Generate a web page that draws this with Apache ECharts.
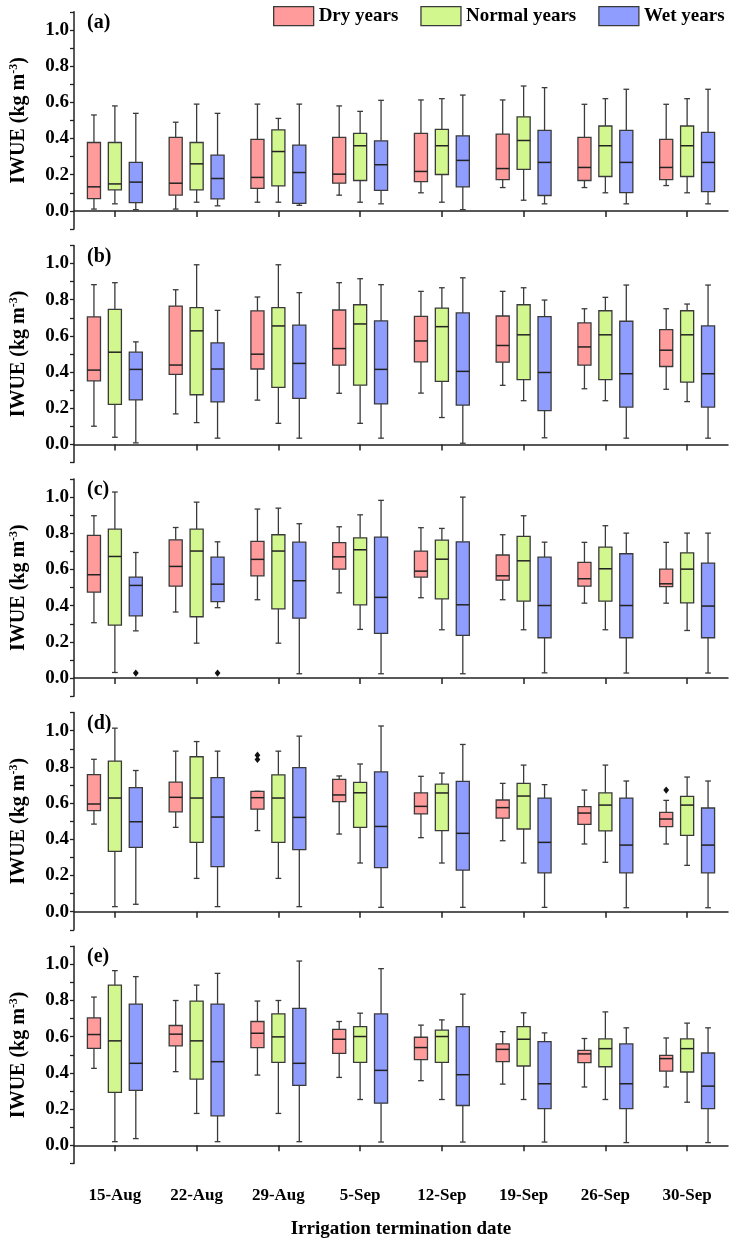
<!DOCTYPE html>
<html lang="en">
<head>
    <meta charset="UTF-8">
    <title>IWUE boxplots</title>
    <script src="https://cdn.jsdelivr.net/npm/echarts@6/dist/echarts.min.js"></script>
    <style>
        html, body { margin: 0; padding: 0; background: #fff; }
    </style>
</head>
<body>
    <div id="chart" style="width:734px;height:1240px;"></div>
<script>
// categories
var dates = ['15-Aug', '22-Aug', '29-Aug', '5-Sep', '12-Sep', '19-Sep', '26-Sep', '30-Sep'];
var groups = ['Dry years', 'Normal years', 'Wet years'];
var panels = ['(a)', '(b)', '(c)', '(d)', '(e)'];

// each row: [min, Q1, median, Q3, max] per date
var dry_a = [[0.01,0.068,0.133,0.378,0.53],[0.01,0.087,0.153,0.406,0.49],[0.048,0.124,0.185,0.395,0.59],[0.087,0.153,0.203,0.406,0.58],[0.1,0.162,0.218,0.428,0.613],[0.129,0.173,0.234,0.424,0.613],[0.129,0.168,0.24,0.406,0.589],[0.14,0.173,0.24,0.395,0.589]];
var normal_a = [[0.039,0.116,0.149,0.378,0.58],[0.048,0.116,0.26,0.378,0.59],[0.048,0.138,0.328,0.448,0.511],[0.048,0.168,0.36,0.428,0.55],[0.048,0.201,0.36,0.45,0.62],[0.059,0.229,0.389,0.52,0.69],[0.1,0.19,0.36,0.469,0.62],[0.1,0.19,0.36,0.469,0.62]];
var wet_a = [[0.007,0.046,0.159,0.268,0.539],[0.028,0.066,0.179,0.308,0.539],[0.031,0.042,0.212,0.363,0.59],[0.039,0.113,0.255,0.387,0.611],[0.007,0.133,0.279,0.415,0.64],[0.039,0.085,0.268,0.445,0.681],[0.039,0.101,0.268,0.445,0.672],[0.039,0.107,0.268,0.434,0.672]];

var dry_b = [[0.101,0.352,0.411,0.705,0.883],[0.169,0.387,0.439,0.765,0.855],[0.245,0.417,0.499,0.738,0.815],[0.283,0.439,0.53,0.743,0.894],[0.284,0.457,0.572,0.708,0.846],[0.327,0.455,0.547,0.71,0.846],[0.308,0.439,0.539,0.672,0.75],[0.305,0.431,0.521,0.635,0.75]];
var normal_b = [[0.04,0.222,0.51,0.747,0.894],[0.121,0.275,0.628,0.756,0.993],[0.117,0.316,0.655,0.756,0.993],[0.117,0.328,0.666,0.772,0.916],[0.149,0.349,0.651,0.754,0.866],[0.242,0.358,0.606,0.772,0.866],[0.242,0.358,0.606,0.739,0.813],[0.237,0.345,0.606,0.739,0.776]];
var wet_b = [[0.009,0.246,0.415,0.51,0.567],[0.035,0.235,0.417,0.561,0.741],[0.035,0.255,0.448,0.659,0.839],[0.035,0.224,0.415,0.683,0.883],[0.007,0.218,0.404,0.727,0.921],[0.037,0.187,0.398,0.706,0.798],[0.035,0.207,0.391,0.681,0.881],[0.035,0.207,0.391,0.655,0.881]];

var dry_c = [[0.306,0.475,0.571,0.788,0.897],[0.365,0.508,0.617,0.764,0.832],[0.433,0.565,0.656,0.755,0.934],[0.471,0.602,0.67,0.748,0.836],[0.444,0.558,0.591,0.702,0.831],[0.433,0.541,0.565,0.68,0.792],[0.414,0.508,0.549,0.639,0.75],[0.414,0.505,0.521,0.602,0.75]];
var normal_c = [[0.031,0.293,0.672,0.823,1.028],[0.193,0.339,0.702,0.823,0.972],[0.193,0.383,0.702,0.792,0.939],[0.269,0.405,0.709,0.775,0.902],[0.267,0.438,0.657,0.762,0.827],[0.267,0.425,0.648,0.783,0.897],[0.267,0.425,0.604,0.724,0.842],[0.263,0.416,0.602,0.692,0.801]];
var wet_c = [[0.261,0.344,0.512,0.558,0.694],[0.389,0.422,0.519,0.668,0.753],[0.024,0.331,0.538,0.751,0.853],[0.024,0.247,0.446,0.779,0.982],[0.024,0.236,0.405,0.753,1.0],[0.029,0.223,0.401,0.668,0.751],[0.028,0.223,0.401,0.687,0.801],[0.028,0.223,0.398,0.635,0.801]];

var dry_d = [[0.484,0.558,0.595,0.757,0.842],[0.466,0.552,0.632,0.716,0.887],[0.448,0.567,0.63,0.665,0.665],[0.429,0.608,0.645,0.731,0.75],[0.409,0.54,0.582,0.656,0.748],[0.392,0.517,0.575,0.617,0.709],[0.374,0.482,0.545,0.58,0.672],[0.374,0.47,0.512,0.549,0.615]];
var normal_d = [[0.028,0.333,0.628,0.832,1.014],[0.184,0.383,0.628,0.856,0.94],[0.184,0.383,0.628,0.756,0.887],[0.269,0.466,0.657,0.715,0.816],[0.269,0.448,0.656,0.705,0.766],[0.269,0.457,0.639,0.709,0.81],[0.273,0.446,0.589,0.656,0.81],[0.256,0.422,0.589,0.637,0.744]];
var wet_d = [[0.041,0.355,0.497,0.686,0.78],[0.028,0.249,0.523,0.741,0.887],[0.028,0.343,0.521,0.796,0.97],[0.024,0.243,0.471,0.772,1.026],[0.024,0.23,0.433,0.72,0.924],[0.024,0.215,0.383,0.628,0.702],[0.022,0.215,0.368,0.628,0.722],[0.022,0.215,0.368,0.573,0.722]];

var dry_e = [[0.425,0.536,0.612,0.704,0.819],[0.407,0.549,0.614,0.662,0.8],[0.388,0.54,0.619,0.684,0.797],[0.375,0.508,0.586,0.64,0.684],[0.357,0.473,0.54,0.597,0.664],[0.338,0.462,0.53,0.56,0.628],[0.322,0.457,0.505,0.525,0.59],[0.322,0.41,0.479,0.497,0.593]];
var normal_e = [[0.02,0.292,0.577,0.885,0.965],[0.176,0.366,0.577,0.797,0.885],[0.176,0.458,0.599,0.726,0.8],[0.253,0.458,0.601,0.656,0.73],[0.253,0.458,0.601,0.636,0.693],[0.253,0.438,0.586,0.656,0.732],[0.253,0.434,0.534,0.588,0.737],[0.238,0.405,0.534,0.588,0.675]];
var wet_e = [[0.037,0.303,0.453,0.78,0.932],[0.02,0.163,0.462,0.78,0.95],[0.02,0.331,0.453,0.756,1.018],[0.018,0.233,0.414,0.726,0.976],[0.018,0.22,0.39,0.656,0.835],[0.018,0.203,0.34,0.573,0.621],[0.015,0.203,0.34,0.56,0.649],[0.015,0.203,0.327,0.51,0.649]];

// outliers: [panel index, group index, date index, value]
var outliers = [[2, 2, 0, 0.028], [2, 2, 1, 0.028], [3, 0, 2, 0.865], [3, 0, 2, 0.841], [3, 0, 7, 0.672]];

var panelData = [
    [dry_a, normal_a, wet_a],
    [dry_b, normal_b, wet_b],
    [dry_c, normal_c, wet_c],
    [dry_d, normal_d, wet_d],
    [dry_e, normal_e, wet_e]
];

var fills = ['#FF9B9B', '#D3F78F', '#8F9DFF'];
var edge = '#3a3a3a';
var offsets = [-0.256, 0, 0.256];   // share of a category band
var font = 'Liberation Serif';

var gridTop = 11.8, gridStep = 233.6, gridH = 217.2;

function boxItem(offset, color) {
    return function (params, api) {
        var band = api.size([1, 0])[0];
        var i = api.value(0);
        var x = api.coord([i, 0])[0] + offset * band;
        var yMin = api.coord([i, api.value(1)])[1];
        var yQ1 = api.coord([i, api.value(2)])[1];
        var yMed = api.coord([i, api.value(3)])[1];
        var yQ3 = api.coord([i, api.value(4)])[1];
        var yMax = api.coord([i, api.value(5)])[1];
        var w = band * 0.16, c = band * 0.035;
        var ls = { stroke: edge, lineWidth: 1.3 };
        return {
            type: 'group',
            children: [
                { type: 'line', shape: { x1: x, y1: yMax, x2: x, y2: yQ3 }, style: ls },
                { type: 'line', shape: { x1: x, y1: yQ1, x2: x, y2: yMin }, style: ls },
                { type: 'line', shape: { x1: x - c, y1: yMax, x2: x + c, y2: yMax }, style: ls },
                { type: 'line', shape: { x1: x - c, y1: yMin, x2: x + c, y2: yMin }, style: ls },
                { type: 'rect', shape: { x: x - w / 2, y: yQ3, width: w, height: yQ1 - yQ3 },
                  style: { fill: color, stroke: edge, lineWidth: 1.3 } },
                { type: 'line', shape: { x1: x - w / 2, y1: yMed, x2: x + w / 2, y2: yMed },
                  style: { stroke: '#222', lineWidth: 1.5 } }
            ]
        };
    };
}

function outlierItem(params, api) {
    var band = api.size([1, 0])[0];
    var i = api.value(0);
    var p = api.coord([i, api.value(1)]);
    var x = p[0] + offsets[api.value(2)] * band, y = p[1], r = 3.6;
    return {
        type: 'polygon',
        shape: { points: [[x, y - r], [x + r * 0.8, y], [x, y + r], [x - r * 0.8, y]] },
        style: { fill: '#111' }
    };
}

var grids = [], xAxes = [], yAxes = [], titles = [], series = [];
panels.forEach(function (label, p) {
    var top = gridTop + p * gridStep;
    var last = p === panels.length - 1;
    grids.push({ left: 73, right: 6, top: top, height: gridH });
    titles.push({
        text: label, left: 87, top: top + 1, padding: 0,
        textStyle: { fontFamily: font, fontWeight: 'bold', fontSize: 20, color: '#000' }
    });
    xAxes.push({
        type: 'category', gridIndex: p, data: dates,
        axisLine: { lineStyle: { color: '#222', width: 1.5 } },
        axisTick: { show: true, alignWithLabel: true, length: 6, lineStyle: { color: '#222', width: 1.5 } },
        axisLabel: {
            show: last, margin: 24, fontFamily: font, fontWeight: 'bold', fontSize: 17, color: '#000'
        },
        name: last ? 'Irrigation termination date' : '',
        nameLocation: 'middle', nameGap: 56,
        nameTextStyle: { fontFamily: font, fontWeight: 'bold', fontSize: 19, color: '#000' }
    });
    yAxes.push({
        type: 'value', gridIndex: p, min: -0.1, max: 1.1, interval: 0.1,
        splitLine: { show: false },
        axisLine: { show: true, lineStyle: { color: '#222', width: 1.5 } },
        axisTick: { show: true, length: 4, lineStyle: { color: '#222', width: 1.3 } },
        axisLabel: {
            margin: 5, fontFamily: font, fontWeight: 'bold', fontSize: 19, color: '#000',
            formatter: function (v) {
                var t = Math.round(v * 10);
                return (t >= 0 && t <= 10 && t % 2 === 0) ? (t / 10).toFixed(1) : '';
            }
        },
        name: 'IWUE (kg m{sup|-3})',
        nameLocation: 'middle', nameGap: 44,
        nameTextStyle: {
            fontFamily: font, fontWeight: 'bold', fontSize: 20, color: '#000',
            rich: { sup: { fontFamily: font, fontWeight: 'bold', fontSize: 12, verticalAlign: 'top', padding: [0, 0, 10, 0] } }
        }
    });
    groups.forEach(function (g, k) {
        series.push({
            name: g, type: 'custom', xAxisIndex: p, yAxisIndex: p,
            itemStyle: { color: fills[k] },
            encode: { x: 0, y: [1, 2, 3, 4, 5] },
            renderItem: boxItem(offsets[k], fills[k]),
            data: panelData[p][k].map(function (d, i) { return [i].concat(d); })
        });
    });
    var pts = outliers.filter(function (o) { return o[0] === p; })
        .map(function (o) { return [o[2], o[3], o[1]]; });
    if (pts.length) {
        series.push({
            name: 'outliers ' + label, type: 'custom', xAxisIndex: p, yAxisIndex: p,
            encode: { x: 0, y: 1 },
            renderItem: outlierItem,
            data: pts
        });
    }
});

var myChart = echarts.init(document.getElementById('chart'));
var option = {
    backgroundColor: '#fff',
    animation: false,
    title: titles,
    legend: {
        data: groups, left: 273, top: 6, icon: 'rect',
        itemWidth: 40, itemHeight: 19, itemGap: 22, padding: 0,
        itemStyle: { borderColor: edge, borderWidth: 1.3 },
        textStyle: { fontFamily: font, fontWeight: 'bold', fontSize: 19, color: '#000' }
    },
    grid: grids,
    xAxis: xAxes,
    yAxis: yAxes,
    series: series
};
myChart.setOption(option);
</script>
</body>
</html>
